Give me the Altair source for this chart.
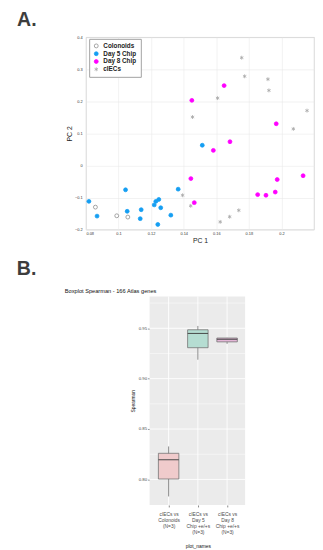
import altair as alt
import pandas as pd

# ---------------- Panel A data (PCA) ----------------
groups = ["Colonoids", "Day 5 Chip", "Day 8 Chip", "cIECs"]

colonoids_x = [0.0858, 0.0989, 0.1057]
colonoids_y = [-0.130, -0.157, -0.161]

day5_x = [0.0818, 0.0868, 0.1043, 0.1053, 0.1139, 0.1133, 0.1219, 0.1229,
          0.1247, 0.1259, 0.1241, 0.1321, 0.1366, 0.1514]
day5_y = [-0.112, -0.158, -0.076, -0.143, -0.138, -0.166, -0.123, -0.112,
          -0.106, -0.132, -0.184, -0.155, -0.074, 0.063]

day8_x = [0.1450, 0.1648, 0.1684, 0.1582, 0.1444, 0.1465, 0.1968, 0.1854,
          0.1905, 0.1962, 0.1974, 0.2133]
day8_y = [0.203, 0.249, 0.074, 0.047, -0.041, -0.116, 0.130, -0.091,
          -0.093, -0.083, -0.044, -0.032]

ciecs_x = [0.1756, 0.1774, 0.1917, 0.1923, 0.1608, 0.1454, 0.2157, 0.2073,
           0.1393, 0.1443, 0.1738, 0.1682, 0.1624]
ciecs_y = [0.336, 0.278, 0.269, 0.234, 0.210, 0.151, 0.171, 0.114,
           -0.093, -0.126, -0.140, -0.160, -0.176]

x_ticks = [0.08, 0.10, 0.12, 0.14, 0.16, 0.18, 0.20, 0.22]
y_ticks = [-0.2, -0.1, 0.0, 0.1, 0.2, 0.3, 0.4]

# ---------------- Panel B data (boxplot summary) ----------------
cats = ["cIECs vs\nColonoids\n(N=3)",
        "cIECs vs\nDay 5\nChip +e/+s\n(N=3)",
        "cIECs vs\nDay 8\nChip +e/+s\n(N=3)"]
lower = [0.7831, 0.9188, 0.9345]
q1 = [0.8004, 0.9307, 0.9365]
median = [0.8195, 0.9449, 0.9391]
q3 = [0.8259, 0.9485, 0.9403]
upper = [0.8327, 0.9523, 0.9405]
box_fills = ["#f0cbcc", "#b5ddd2", "#e4b6d7"]
b_ticks = [0.80, 0.85, 0.90, 0.95]
b_minor = [0.825, 0.875, 0.925, 0.975]

FONT = "Liberation Sans"

# ---------------- Panel A ----------------
rows = []
for g, xs, ys in [(groups[0], colonoids_x, colonoids_y),
                  (groups[1], day5_x, day5_y),
                  (groups[2], day8_x, day8_y),
                  (groups[3], ciecs_x, ciecs_y)]:
    for xv, yv in zip(xs, ys):
        rows.append({"group": g, "pc1": xv, "pc2": yv})
dfA = pd.DataFrame(rows)

asterisk = "M0,-1L0,1M-0.87,-0.5L0.87,0.5M-0.87,0.5L0.87,-0.5"

axA_common = dict(domain=False, ticks=False, labelFontSize=4, labelColor="#333333",
                  gridColor="#e9e9e9", gridWidth=0.6, titleFontSize=7,
                  titleFontWeight="normal", titleColor="#222222")

scatter = alt.Chart(dfA).mark_point(size=16, strokeWidth=0.8, opacity=1, fillOpacity=1).encode(
    x=alt.X("pc1:Q", title="PC 1",
            scale=alt.Scale(domain=[0.08, 0.22], nice=False, zero=False),
            axis=alt.Axis(values=x_ticks, format=".2~f", labelPadding=2, titlePadding=1,
                          labelExpr="datum.value > 0.21 ? '' : datum.label", **axA_common)),
    y=alt.Y("pc2:Q", title="PC 2",
            scale=alt.Scale(domain=[-0.2, 0.4], nice=False, zero=False),
            axis=alt.Axis(values=y_ticks, format=".1~f", labelPadding=4, titlePadding=2,
                          **axA_common)),
    fill=alt.Fill("group:N", title=None,
                  scale=alt.Scale(domain=groups, range=["transparent", "#159ef2", "#ff00ff", "#a6a6a6"])),
    stroke=alt.Stroke("group:N", title=None,
                      scale=alt.Scale(domain=groups, range=["#8c8c8c", "#159ef2", "#ff00ff", "#a6a6a6"])),
    shape=alt.Shape("group:N", title=None,
                    scale=alt.Scale(domain=groups, range=["circle", "circle", "circle", asterisk])),
)

letterA = alt.Chart(pd.DataFrame({"t": ["A."]})).mark_text(
    align="left", baseline="alphabetic", fontSize=20, fontWeight="bold", color="#3d3d3d", font=FONT
).encode(x=alt.value(-70.7), y=alt.value(-11.5), text="t:N")

chartA = alt.layer(scatter, letterA).properties(
    width=234, height=197.4,
    view=alt.ViewBackground(fill="white", stroke="#c4c4c4", strokeWidth=0.8),
)

# ---------------- Panel B ----------------
# Panel B's plot area starts at the same x as panel A's; the grey ggplot panel
# occupies its right part (from PL to PR).
PL, PR, PH = 65.3, 163.3, 214

dfB = pd.DataFrame({"cat": cats, "lower": lower, "q1": q1, "median": median,
                    "q3": q3, "upper": upper})

yscaleB = alt.Scale(domain=[0.7746, 0.9816], nice=False, zero=False)
yaxisB = alt.Axis(values=b_ticks, format=".2f", labelFontSize=4.5, labelColor="#4d4d4d",
                  tickColor="#333333", tickSize=2, tickWidth=0.6, domain=False, labelPadding=1,
                  grid=False, offset=-PL, titleFontSize=5, titleFontWeight="normal",
                  titleColor="#111111", titlePadding=3)
xaxisB = alt.Axis(labelExpr="split(datum.label, '\\n')", labelAngle=0, labelFontSize=5,
                  labelColor="#4d4d4d", labelLineHeight=6, tickColor="#333333", tickSize=2,
                  tickWidth=0.6, domain=False, labelPadding=5, grid=False,
                  titleFontSize=5, titleFontWeight="normal", titleColor="#111111",
                  titlePadding=10)
xencB = alt.X("cat:N", title="plot_names", sort=cats,
              scale=alt.Scale(type="point", domain=cats, range=[84.8, 144.8], padding=0),
              axis=xaxisB)


def yB(field):
    return alt.Y(field, title="Spearman", scale=yscaleB, axis=yaxisB)


panel = alt.Chart(pd.DataFrame({"p": [0]})).mark_rect(color="#ebebeb").encode(
    x=alt.value(PL), x2=alt.value(PR), y=alt.value(0), y2=alt.value(PH)
)
minor = alt.Chart(pd.DataFrame({"v": b_minor})).mark_rule(color="white", strokeWidth=0.5).encode(
    y=yB("v:Q"), x=alt.value(PL), x2=alt.value(PR)
)
major = alt.Chart(pd.DataFrame({"v": b_ticks})).mark_rule(color="white", strokeWidth=0.9).encode(
    y=yB("v:Q"), x=alt.value(PL), x2=alt.value(PR)
)
baseB = alt.Chart(dfB)
vgrid = baseB.mark_rule(color="white", strokeWidth=0.9).encode(x=xencB)
whisk = baseB.mark_rule(color="#6e6e6e", strokeWidth=0.8).encode(
    x=xencB, y=yB("lower:Q"), y2="upper:Q",
)
box = baseB.mark_bar(size=21, stroke="#727272", strokeWidth=0.8).encode(
    x=xencB, y=yB("q1:Q"), y2="q3:Q",
    fill=alt.Fill("cat:N", scale=alt.Scale(domain=cats, range=box_fills), legend=None),
)
med = baseB.mark_tick(size=21, thickness=1, color="#454545", opacity=1).encode(
    x=xencB, y=yB("median:Q"),
)
titleB = alt.Chart(pd.DataFrame({"t": ["Boxplot Spearman - 166 Atlas genes"]})).mark_text(
    align="left", baseline="middle", fontSize=5.8, color="#111111", font=FONT
).encode(x=alt.value(-21.7), y=alt.value(-6), text="t:N")
letterB = alt.Chart(pd.DataFrame({"t": ["B."]})).mark_text(
    align="left", baseline="alphabetic", fontSize=20, fontWeight="bold", color="#3d3d3d", font=FONT
).encode(x=alt.value(-70.9), y=alt.value(-22), text="t:N")

chartB = alt.layer(panel, minor, major, vgrid, whisk, box, med, titleB, letterB).properties(
    width=PR, height=PH,
    view=alt.ViewBackground(fill="transparent", stroke="transparent"),
)

chart = alt.vconcat(chartA, chartB, spacing=15).resolve_scale(
    fill="independent", stroke="independent", shape="independent"
).properties(
    padding={"left": 8, "top": -5.2, "right": 0, "bottom": 0}
).configure(font=FONT).configure_legend(
    orient="none", legendX=3.3, legendY=1.7, fillColor="white", strokeColor="#a0a0a0",
    padding=4, labelFontSize=6.5, labelFontWeight="bold", labelColor="#222222",
    symbolSize=16, symbolStrokeWidth=0.8, rowPadding=0, labelOffset=4, cornerRadius=0,
    labelFont=FONT
)

chart.save("out.html", embed_options={"renderer": "svg", "actions": False})
